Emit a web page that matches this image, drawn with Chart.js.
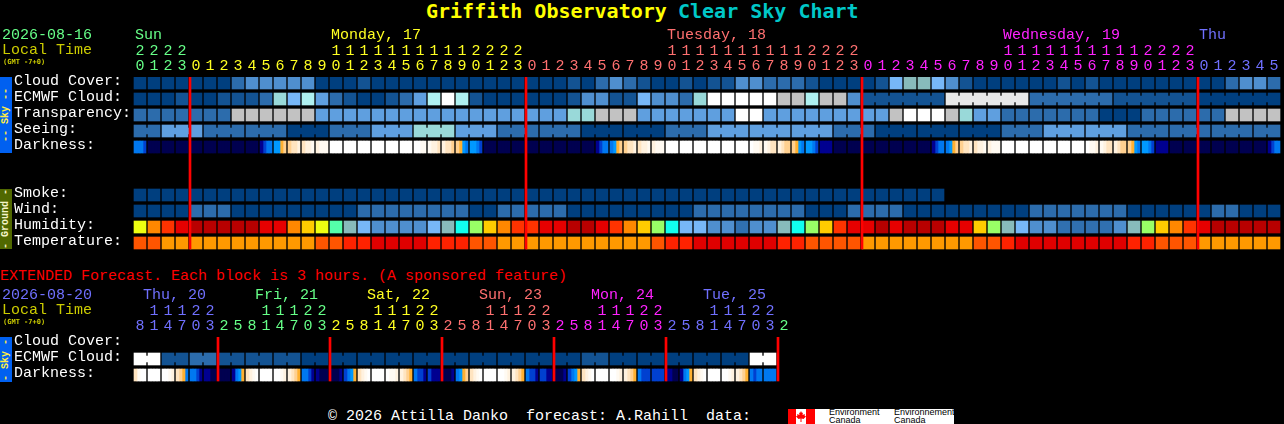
<!DOCTYPE html>
<html lang="en">
<head>
  <meta charset="UTF-8" />
  <title>Griffith Observatory Clear Sky Chart</title>
  <script src="https://cdn.jsdelivr.net/npm/chart.js"></script>
  <style>
    html, body { margin: 0; padding: 0; background: #000; }
    body { position: relative; width: 1284px; height: 424px; overflow: hidden; font-family: "Liberation Mono", monospace; }
    canvas { position: absolute; left: 0; }
    #mainChart { top: 40px; }
    #extChart { top: 300px; }
    .t { position: absolute; white-space: pre; font-size: 15px; line-height: 16px; }
    .side { position: absolute; left: 0; width: 12px; display: flex; align-items: center; justify-content: center; }
    .side span { transform: rotate(-90deg); white-space: pre; font-size: 10px; line-height: 12px; font-weight: bold; }
    #logo { position: absolute; left: 788px; top: 409px; width: 166px; height: 15px; overflow: hidden; background: #fff; color: #000; font: 9px/7.500px "Liberation Sans", sans-serif; }
    #logo i { position: absolute; top: 0; height: 15px; background: #f00; }
    #logo span { position: absolute; top: 0; white-space: pre; }
  </style>
</head>
<body>
  <div class="side" style="top:77px;height:76px;background:#0060f0;color:#ffee44"><span>-- Sky --</span></div>
  <div class="side" style="top:189px;height:60px;background:#506800;color:#f4f4c8"><span>- Ground -</span></div>
  <div class="side" style="top:337px;height:45px;background:#0060f0;color:#ffee44"><span>- Sky -</span></div>

  <canvas id="mainChart" width="1284" height="215"></canvas>
  <canvas id="extChart" width="794" height="87"></canvas>

  <div id="logo">
    <i style="left:0;width:8px"></i><i style="left:18px;width:9px"></i>
    <svg style="position:absolute;left:8px;top:2px" width="10" height="12" viewBox="0 0 10 12"><path fill="#f00" d="M5 0L6 2L7 1.500L6.500 4L9 3L8.500 4.500L10 5.500L7.500 8L5.500 7.500V11H4.500V7.500L2.500 8L0 5.500L1.500 4.500L1 3L3.500 4L3 1.500L4 2Z"/></svg>
    <span style="left:41px">Environment
Canada</span>
    <span style="left:106px">Environnement
Canada</span>
  </div>

  <script>
    const GREEN = '#66ff88', YELLOW = '#ffff22', SALMON = '#ff7070', MAGENTA = '#ff22ff', BLUE = '#7070ff';

    // main forecast, one column per hour
    const rowNames = ['Cloud Cover:', 'ECMWF Cloud:', 'Transparency:', 'Seeing:', 'Darkness:', '', '', 'Smoke:', 'Wind:', 'Humidity:', 'Temperature:'];
    const hours = [
      20, 21, 22, 23,
      0, 1, 2, 3, 4, 5, 6, 7, 8, 9, 10, 11, 12, 13, 14, 15, 16, 17, 18, 19, 20, 21, 22, 23,
      0, 1, 2, 3, 4, 5, 6, 7, 8, 9, 10, 11, 12, 13, 14, 15, 16, 17, 18, 19, 20, 21, 22, 23,
      0, 1, 2, 3, 4, 5, 6, 7, 8, 9, 10, 11, 12, 13, 14, 15, 16, 17, 18, 19, 20, 21, 22, 23,
      0, 1, 2, 3, 4, 5
    ];
    const dayNames = ['Sun', 'Monday, 17', 'Tuesday, 18', 'Wednesday, 19', 'Thu'];
    const dayNameCols = [0, 14, 38, 62, 76];
    const dayStarts = [0, 4, 28, 52, 76];
    const dayColors = [GREEN, YELLOW, SALMON, MAGENTA, BLUE];
    const midnights = [4, 28, 52, 76];

    // sky rows index into skyColors
    const cloudCover = [
      0, 0, 0, 0, 0, 0, 0, 2, 3, 3,
      3, 3, 3, 0, 0, 0, 1, 0, 0, 0,
      0, 0, 0, 0, 0, 0, 0, 0, 0, 0,
      0, 1, 0, 2, 3, 2, 1, 0, 0, 1,
      0, 1, 1, 3, 3, 2, 2, 2, 1, 0,
      0, 0, 0, 1, 5, 6, 6, 5, 3, 1,
      0, 0, 0, 0, 0, 0, 1, 0, 1, 0,
      0, 0, 0, 0, 0, 0, 0, 0, 2, 3,
      3, 2
    ];
    const ecmwfCloud = [
      0, 0, 0, 1, 0, 0, 1, 1, 1, 2,
      7, 5, 8, 4, 2, 1, 0, 0, 1, 2,
      4, 8, 11, 8, 1, 0, 0, 0, 0, 0,
      0, 1, 3, 3, 1, 1, 5, 3, 3, 2,
      7, 11, 11, 11, 11, 11, 9, 9, 8, 9,
      9, 3, 1, 1, 1, 1, 1, 1, 10, 10,
      10, 10, 10, 10, 2, 2, 2, 2, 2, 2,
      1, 1, 1, 1, 1, 1, 0, 0, 0, 0,
      0, 0
    ];
    const transparency = [
      2, 2, 2, 2, 2, 2, 2, 9, 9, 9,
      9, 9, 9, 4, 4, 4, 4, 4, 4, 4,
      4, 4, 4, 4, 4, 4, 4, 4, 4, 4,
      4, 7, 7, 9, 9, 9, 4, 4, 4, 4,
      4, 4, 4, 11, 11, 4, 4, 4, 4, 4,
      4, 4, 4, 4, 9, 11, 11, 11, 9, 7,
      4, 4, 2, 2, 2, 2, 2, 2, 2, 0,
      0, 0, 2, 2, 2, 2, 2, 2, 9, 9,
      9, 9
    ];
    const seeing = [
      2, 2, 4, 4, 4, 2, 2, 2, 2, 2,
      2, 0, 0, 0, 2, 2, 2, 4, 4, 4,
      7, 7, 7, 4, 4, 4, 2, 2, 2, 2,
      2, 2, 0, 0, 0, 0, 0, 0, 2, 2,
      2, 4, 4, 4, 4, 4, 4, 4, 4, 4,
      2, 2, 2, 0, 0, 0, 0, 0, 0, 0,
      0, 0, 2, 2, 2, 4, 4, 4, 4, 4,
      4, 2, 2, 2, 2, 2, 2, 2, 2, 2,
      2, 2
    ];
    const smoke = [
      0, 0, 0, 0, 0, 0, 0, 0, 0, 0,
      0, 0, 0, 0, 0, 0, 0, 0, 0, 0,
      0, 0, 0, 0, 0, 0, 0, 0, 0, 0,
      0, 0, 0, 0, 0, 0, 0, 0, 0, 0,
      0, 0, 0, 0, 0, 0, 0, 0, 0, 0,
      0, 0, 0, 0, 0, 0, 0, 0
    ];
    const wind = [
      0, 0, 0, 0, 2, 2, 2, 0, 0, 0,
      0, 0, 0, 0, 0, 0, 2, 2, 2, 2,
      2, 2, 2, 2, 0, 0, 2, 2, 2, 2,
      2, 0, 0, 0, 0, 0, 0, 0, 0, 0,
      2, 2, 2, 2, 2, 2, 2, 2, 0, 0,
      0, 2, 2, 2, 2, 0, 0, 0, 0, 0,
      0, 0, 0, 0, 2, 2, 2, 2, 2, 2,
      2, 0, 0, 0, 0, 0, 0, 2, 2, 0,
      0, 0
    ];
    const humidity = [
      7, 9, 10, 11, 12, 12, 12, 12, 12, 11,
      11, 9, 8, 7, 4, 3, 2, 1, 1, 1,
      1, 2, 3, 5, 6, 8, 9, 10, 10, 11,
      11, 12, 12, 11, 10, 9, 8, 6, 5, 2,
      2, 1, 1, 0, 1, 1, 3, 5, 6, 8,
      10, 11, 11, 12, 11, 12, 12, 12, 11, 11,
      8, 6, 3, 2, 1, 1, 0, 0, 0, 0,
      1, 3, 6, 8, 9, 10, 11, 12, 12, 12,
      12, 12
    ];
    const temperature = [
      2, 2, 3, 3, 3, 3, 3, 3, 3, 3,
      3, 3, 3, 2, 2, 1, 1, 0, 0, 0,
      0, 1, 1, 1, 2, 2, 3, 3, 3, 3,
      3, 3, 3, 3, 3, 3, 3, 2, 1, 1,
      0, 0, 0, 0, 0, 0, 1, 1, 2, 2,
      2, 2, 3, 3, 3, 3, 3, 3, 3, 3,
      2, 2, 1, 0, 0, 0, 0, 0, 0, 0,
      0, 1, 1, 2, 2, 2, 3, 3, 3, 3,
      3, 3
    ];
    // darkness shown as four samples across each hour
    const darkness = [
      [3,3,3,2], [0,0,0,0], [0,0,0,0], [0,0,0,0], [0,0,0,0], [0,0,0,0], [0,0,0,0], [0,0,0,0], [0,0,0,0], [1,2,3,3],
      [4,4,5,6], [6,7,7,8], [7,8,8,9], [8,9,9,9], [10,10,10,10], [10,10,10,10], [10,10,10,10], [10,10,10,10], [10,10,10,10], [10,10,10,10],
      [10,10,9,9], [9,8,8,7], [8,7,7,6], [6,5,4,3], [4,4,3,2], [0,0,0,0], [0,0,0,0], [0,0,0,0], [0,0,0,0], [0,0,0,0],
      [0,0,0,0], [0,0,0,0], [0,0,0,0], [1,2,3,3], [3,4,5,6], [6,7,7,8], [7,8,8,9], [8,9,9,9], [10,10,10,10], [10,10,10,10],
      [10,10,10,10], [10,10,10,10], [10,10,10,10], [10,10,10,10], [10,9,9,8], [9,8,7,7], [8,7,6,6], [6,5,4,3], [4,4,3,2], [1,1,1,1],
      [0,0,0,0], [0,0,0,0], [0,0,0,0], [0,0,0,0], [0,0,0,0], [0,0,0,0], [0,0,0,0], [1,2,3,3], [3,4,5,6], [6,7,7,8],
      [7,8,8,9], [8,9,9,9], [10,10,10,10], [10,10,10,10], [10,10,10,10], [10,10,10,10], [10,10,10,10], [10,10,10,10], [10,9,9,8], [9,8,7,7],
      [8,7,6,6], [6,5,4,3], [4,4,3,2], [1,1,1,1], [0,0,0,0], [0,0,0,0], [0,0,0,0], [0,0,0,0], [0,0,0,0], [0,0,0,0],
      [0,0,0,0], [1,2,3,3]
    ];
    // 3 hourly forecasts: blocks of columns joined together
    const seeingBlocks = [0, 2, 5, 8, 11, 14, 17, 20, 23, 26, 29, 32, 35, 38, 41, 44, 47, 50, 53, 56, 59, 62, 65, 68, 71, 74, 77, 80, 82];
    const ecmwfBlocks = [52, 58, 64, 70, 76, 82];

    // extended forecast, one column per 3 hours
    const extRowNames = ['Cloud Cover:', 'ECMWF Cloud:', 'Darkness:'];
    const extHours = [
      8, 11, 14, 17, 20, 23,
      2, 5, 8, 11, 14, 17, 20, 23,
      2, 5, 8, 11, 14, 17, 20, 23,
      2, 5, 8, 11, 14, 17, 20, 23,
      2, 5, 8, 11, 14, 17, 20, 23,
      2, 5, 8, 11, 14, 17, 20, 23,
      2
    ];
    const extDayNames = ['Thu, 20', 'Fri, 21', 'Sat, 22', 'Sun, 23', 'Mon, 24', 'Tue, 25'];
    const extDayNameCols = [0, 8, 16, 24, 32, 40];
    const extDayStarts = [0, 6, 14, 22, 30, 38, 46];
    const extDayColors = [BLUE, GREEN, YELLOW, SALMON, MAGENTA, BLUE, GREEN];
    const extMidnights = [6, 14, 22, 30, 38, 46];
    const extCloud = [
      11, 11, 1, 1, 2, 2, 1, 1, 1, 1,
      1, 1, 0, 0, 0, 0, 0, 0, 0, 0,
      0, 0, 0, 0, 0, 0, 0, 0, 0, 0,
      0, 0, 1, 1, 0, 0, 0, 0, 0, 0,
      0, 0, 0, 0, 11, 11
    ];
    const extBlocks = [0, 2, 4, 6, 8, 10, 12, 14, 16, 18, 20, 22, 24, 26, 28, 30, 32, 34, 36, 38, 40, 42, 44, 46];
    const extDarkness = [
      [7,9,10,10], [10,10,10,10], [10,10,9,8], [7,6,5,3], [3,3,2,1], [1,1,0,0], [0,0,0,0], [1,3,4,5],
      [7,8,9,10], [10,10,10,10], [10,10,9,8], [8,7,6,5], [3,3,2,1], [1,0,0,0], [0,0,0,1], [2,3,4,5],
      [7,8,9,10], [10,10,10,10], [10,9,9,8], [8,7,6,5], [3,2,2,1], [2,1,1,1], [0,0,0,1], [3,4,5,6],
      [7,8,9,10], [10,10,10,10], [10,10,9,8], [8,7,6,5], [3,2,2,1], [2,2,1,1], [0,0,0,1], [2,3,4,5],
      [7,8,9,10], [10,10,10,10], [10,10,9,8], [8,7,6,5], [3,2,2,2], [2,2,2,2], [1,1,0,0], [1,3,4,5],
      [7,8,9,10], [10,10,10,10], [10,10,9,8], [8,7,6,5], [3,2,3,3], [3,3,3,3]
    ];

    const skyColors = ['#003f7f', '#135393', '#2c6cac', '#4f8fcf', '#5f9fdf', '#77b7f7', '#88bbbb', '#99d9d9', '#aff0f0', '#c2c2c2', '#e8e8e8', '#ffffff'];
    const humidityColors = ['#3070b0', '#4f8fcf', '#77b7f7', '#88bbbb', '#55ffaa', '#11ffee', '#99ff66', '#eeff11', '#ffcc00', '#ff8800', '#ff3300', '#e60000', '#b80000'];
    const temperatureColors = ['#e00000', '#ff2200', '#ff5500', '#ff9900'];
    const darknessColors = ['#000050', '#000090', '#0040d0', '#0078f0', '#0099ff', '#ffb030', '#ffd090', '#ffe4c0', '#fff2e0', '#fffaf2', '#ffffff'];

    // a block fills 12 of the 16px in its row and 12 of the 14px in its column
    const CELL = 0.75;
    const colX = i => i + 0.5;
    const baseBar = { grouped: false, borderWidth: 0, borderSkipped: false };

    function cellRow(values, row, palette) {
      return {
        ...baseBar, barThickness: 12,
        data: values.map((v, i) => ({ x: colX(i), y: [row, row + CELL] })),
        backgroundColor: values.map(v => palette[v])
      };
    }

    // little bar joining neighbours in the same forecast block
    function joinRow(values, row, blocks, palette) {
      const data = [], colors = [];
      for (let b = 0; b < blocks.length - 1; b++) {
        for (let i = blocks[b]; i < blocks[b + 1] - 1; i++) {
          data.push({ x: i + 1, y: [row + 0.19, row + 0.56] });
          colors.push(palette[values[i]]);
        }
      }
      return { ...baseBar, barThickness: 2, data, backgroundColor: colors };
    }

    // darkness hour split in 4 bars, 3px each
    function darknessRow(samples, row) {
      return [0, 1, 2, 3].map(k => ({
        ...baseBar, barThickness: 3,
        data: samples.map((s, i) => ({ x: i + (2.5 + 3 * k) / 14, y: [row, row + CELL] })),
        backgroundColor: samples.map(s => darknessColors[s[k]])
      }));
    }

    function midnightLines(cols, lastRow) {
      return {
        ...baseBar, barThickness: 2,
        data: cols.map(c => ({ x: c + 1 / 14, y: [0, lastRow + CELL] })),
        backgroundColor: '#ff0000'
      };
    }

    function colorAt(starts, colors, i) {
      let c = colors[0];
      starts.forEach((s, n) => { if (i >= s) c = colors[n]; });
      return c;
    }

    function twoDigits(h) {
      return h < 10 ? ['', String(h)] : [String(h)[0], String(h)[1]];
    }

    function makeChart(id, datasets, labels, names, cols, starts, colors) {
      const font = { family: '"Liberation Mono", monospace', size: 15, lineHeight: 1 };
      return new Chart(document.getElementById(id), {
        type: 'bar',
        data: { datasets },
        options: {
          responsive: false,
          animation: false,
          events: [],
          layout: { padding: { left: 14, right: 3, top: 0, bottom: 2 } },
          plugins: { legend: { display: false }, tooltip: { enabled: false } },
          scales: {
            x: {
              type: 'linear', position: 'top', min: 0, max: cols, offset: false,
              grid: { display: false, drawTicks: false }, border: { display: false },
              afterFit: a => { a.height = 37; a.paddingLeft = 0; a.paddingRight = 0; },
              afterBuildTicks: a => { a.ticks = labels.map((h, i) => ({ value: colX(i) })); },
              ticks: {
                autoSkip: false, maxRotation: 0, minRotation: 0, padding: 3, font,
                color: c => colorAt(starts, colors, c.index),
                callback: (v, i) => twoDigits(labels[i])
              }
            },
            y: {
              type: 'linear', reverse: true, min: 0, max: names.length,
              grid: { display: false, drawTicks: false }, border: { display: false },
              afterFit: a => { a.width = 119; a.paddingTop = 0; a.paddingBottom = 0; },
              afterBuildTicks: a => { a.ticks = names.map((n, r) => ({ value: r + 0.27 })); },
              ticks: {
                autoSkip: false, crossAlign: 'far', color: '#ffffff', font,
                callback: (v, i) => names[i]
              }
            }
          }
        }
      });
    }

    makeChart('mainChart', [
      midnightLines(midnights, 10),
      cellRow(cloudCover, 0, skyColors),
      cellRow(ecmwfCloud, 1, skyColors),
      joinRow(ecmwfCloud, 1, ecmwfBlocks, skyColors),
      cellRow(transparency, 2, skyColors),
      cellRow(seeing, 3, skyColors),
      joinRow(seeing, 3, seeingBlocks, skyColors),
      ...darknessRow(darkness, 4),
      cellRow(smoke, 7, skyColors),
      cellRow(wind, 8, skyColors),
      cellRow(humidity, 9, humidityColors),
      cellRow(temperature, 10, temperatureColors)
    ], hours, rowNames, 82, dayStarts, dayColors);

    makeChart('extChart', [
      midnightLines(extMidnights, 2),
      cellRow(extCloud, 1, skyColors),
      joinRow(extCloud, 1, extBlocks, skyColors),
      ...darknessRow(extDarkness, 2)
    ], extHours, extRowNames, 47, extDayStarts, extDayColors);

    // header and footer text
    function put(text, left, mid, color, size, bold) {
      const el = document.createElement('div');
      el.className = 't';
      el.textContent = text;
      el.style.left = left + 'px';
      el.style.top = (mid - 8) + 'px';
      el.style.color = color;
      if (size) el.style.fontSize = size + 'px';
      if (bold) {
        el.style.fontWeight = 'bold';
        el.style.fontFamily = '"DejaVu Sans Mono", monospace';
      }
      document.body.appendChild(el);
      return el;
    }

    put('Griffith Observatory', 426, 11, '#ffff00', 20, true);
    put('Clear Sky Chart', 678, 11, '#00c8c8', 20, true);
    put('2026-08-16', 2, 36, GREEN);
    put('Local Time', 2, 51, '#cccc00');
    put('(GMT -7+0)', 3, 62, '#cccc00', 7, true);
    dayNames.forEach((d, i) => put(d, 135 + 14 * dayNameCols[i], 36, dayColors[i]));

    put('EXTENDED Forecast. Each block is 3 hours. (A sponsored feature)', 0, 277, '#ff0000');
    put('2026-08-20', 2, 296, BLUE);
    put('Local Time', 2, 311, '#cccc00');
    put('(GMT -7+0)', 3, 322, '#cccc00', 7, true);
    extDayNames.forEach((d, i) => put(d, 143 + 14 * extDayNameCols[i], 296, extDayColors[i]));

    put('\u00a9 2026 Attilla Danko  forecast: A.Rahill  data:', 328, 417, '#ffffff');
  </script>
</body>
</html>
